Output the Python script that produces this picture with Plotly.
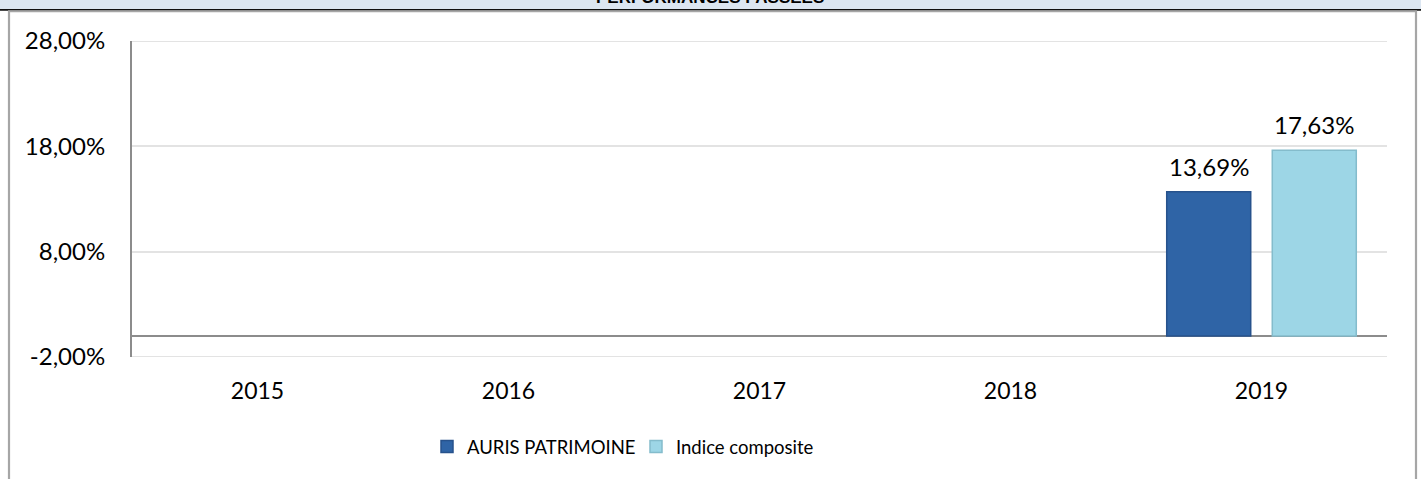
import plotly.graph_objects as go

# ---- data ----
years = ["2015", "2016", "2017", "2018", "2019"]
auris = [None, None, None, None, 13.69]
indice = [None, None, None, None, 17.63]
series_names = ["AURIS PATRIMOINE", "Indice composite"]
title_text = "PERFORMANCES PASSEES"
y_ticks = [-2, 8, 18, 28]
y_ticktext = [f"{v:.2f}%".replace(".", ",") for v in y_ticks]

# ---- layout constants (pixels) ----
W, H = 1421, 479
L, R, T, B = 132, 34, 41, 122
PW = W - L - R
PH = H - T - B
BARGAP = 0.159
BARGROUPGAP = 0.204

def px_x(px):
    return (px - L) / PW

def px_y(py):
    return (H - B - py) / PH

FONT = "Lato, Carlito, Calibri, sans-serif"
DARK = "#2f64a6"
LIGHT = "#9dd6e6"
GRID = "#e3e3e3"

fig = go.Figure()
fig.add_trace(go.Bar(
    x=years, y=auris, name=series_names[0],
    marker=dict(color=DARK, line=dict(color="#27528c", width=1.5)),
))
fig.add_trace(go.Bar(
    x=years, y=indice, name=series_names[1],
    marker=dict(color=LIGHT, line=dict(color="#84bccc", width=1.5)),
))

# data labels above bars (x given as category index)
cat_w = PW / len(years)
slot = cat_w * (1 - BARGAP) / 2
offsets = [-slot / 2, slot / 2]
for vals, off in zip([auris, indice], offsets):
    for i, yv in enumerate(vals):
        if yv is None:
            continue
        fig.add_annotation(
            x=i, y=yv, xref="x", yref="y",
            text=f"{yv:.2f}%".replace(".", ","),
            showarrow=False, xanchor="center", yanchor="bottom",
            xshift=off, yshift=9,
            font=dict(family=FONT, size=24, color="#000000"),
        )

# gridlines at the range edges (plotly omits them)
shapes = []
for v in (y_ticks[0], y_ticks[-1]):
    shapes.append(dict(type="line", xref="paper", yref="y",
                       x0=0, x1=1, y0=v, y1=v,
                       line=dict(color=GRID, width=2), layer="below"))

# title banner (mostly cut off at top of page) and frame
shapes += [
    dict(type="rect", xref="paper", yref="paper",
         x0=px_x(0), x1=px_x(W), y0=px_y(9), y1=px_y(0),
         fillcolor="#dce6f1", line=dict(width=0), layer="below"),
    dict(type="line", xref="paper", yref="paper",
         x0=px_x(0), x1=px_x(W), y0=px_y(9.8), y1=px_y(9.8),
         line=dict(color="#111111", width=1.8)),
    dict(type="line", xref="paper", yref="paper",
         x0=px_x(8), x1=px_x(1417), y0=px_y(11.3), y1=px_y(11.3),
         line=dict(color="#a6a6a6", width=2)),
    dict(type="line", xref="paper", yref="paper",
         x0=px_x(9), x1=px_x(9), y0=px_y(11), y1=px_y(H + 5),
         line=dict(color="#a6a6a6", width=2.2)),
    dict(type="line", xref="paper", yref="paper",
         x0=px_x(1416), x1=px_x(1416), y0=px_y(11), y1=px_y(H + 5),
         line=dict(color="#a6a6a6", width=2.2)),
]
fig.add_annotation(
    x=px_x(710), y=px_y(9), xref="paper", yref="paper",
    text=f"<b>{title_text}</b>", showarrow=False,
    xanchor="center", yanchor="bottom",
    font=dict(family="Liberation Sans, Arial, sans-serif", size=17, color="#000000"),
)

fig.update_layout(
    width=W, height=H, autosize=False,
    margin=dict(l=L, r=R, t=T, b=B, pad=0),
    paper_bgcolor="white", plot_bgcolor="white",
    barmode="group", bargap=BARGAP, bargroupgap=BARGROUPGAP,
    font=dict(family=FONT, size=22, color="#000000"),
    shapes=shapes,
    showlegend=True,
    legend=dict(
        orientation="h", x=px_x(427), xanchor="left",
        y=px_y(447), yanchor="middle",
        font=dict(family=FONT, size=18.5, color="#000000"),
        entrywidth=164, bgcolor="rgba(0,0,0,0)",
        traceorder="normal",
    ),
    xaxis=dict(
        type="category", categoryorder="array", categoryarray=years,
        range=[-0.5, len(years) - 0.5],
        showgrid=False, showline=False, ticks="",
        tickfont=dict(family=FONT, size=23, color="#000000"),
        ticklabelstandoff=18, fixedrange=True,
    ),
    yaxis=dict(
        range=[-2, 28], tickmode="array", tickvals=y_ticks, ticktext=y_ticktext,
        showgrid=True, gridcolor=GRID, gridwidth=2,
        showline=True, linecolor="#8c8c8c", linewidth=2,
        zeroline=True, zerolinecolor="#8c8c8c", zerolinewidth=2,
        ticks="", ticklabelstandoff=20,
        tickfont=dict(family=FONT, size=24, color="#000000"),
        fixedrange=True,
    ),
)

fig.write_html("out.html")
